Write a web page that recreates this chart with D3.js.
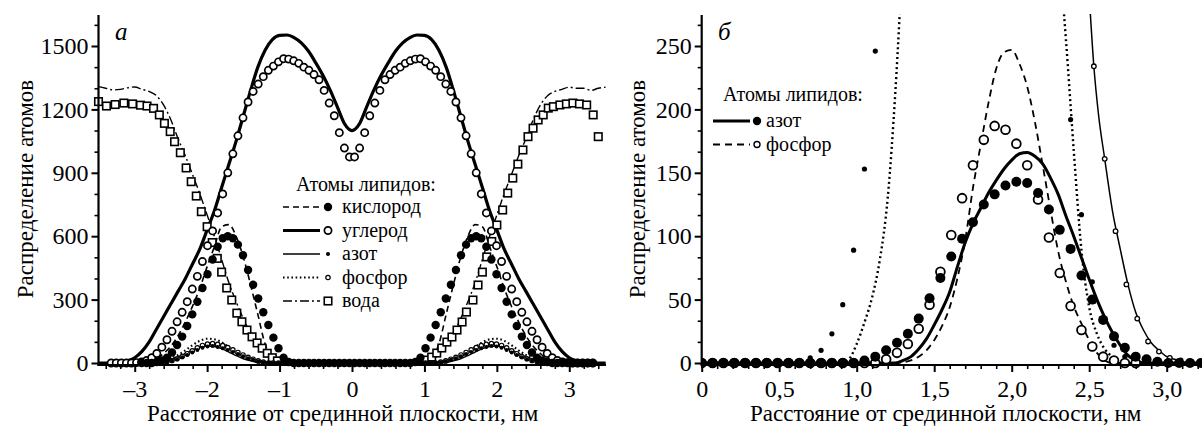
<!DOCTYPE html>
<html lang="ru">
<head>
<meta charset="UTF-8">
<title>Распределение атомов</title>
<script src="https://d3js.org/d3.v7.min.js"></script>
<style>
  body { margin: 0; background: #fff; }
  svg { display: block; font-family: "Liberation Serif", "Times New Roman", "DejaVu Serif", serif; }
  .axis text { font-family: "Liberation Serif", "Times New Roman", serif; font-size: 24px; fill: #000; }
  .axis line { stroke: #000; }
  .title { font-size: 23px; }
  .legend text { font-size: 20px; }
  .panel-letter { font-size: 25px; font-style: italic; }
</style>
</head>
<body>
<svg id="chart" width="1202" height="427"></svg>
<script>
// ---------- panel а : grids ----------
const lineXA = d3.range(-35, 36).map(k => k / 10);              // step 0.1 nm
const markXA = d3.range(-47.5, 48, 1).map(k => +(k * 0.07).toFixed(3)); // step 0.07 nm

// lines, panel а
const carbonLine = [0,0,0,3,10,25,55,100,160,220,280,340,400,470,540,630,720,830,940,1050,1170,1290,1400,1480,1530,1550,1552,1540,1515,1475,1420,1360,1290,1210,1130,
  1100,
  1130,1210,1290,1360,1420,1475,1515,1540,1552,1550,1530,1480,1400,1290,1170,1050,940,830,720,630,540,470,400,340,280,220,160,100,55,25,10,3,0,0,0];
const oxygenLine = [0,0,0,0,0,0,0,5,18,45,80,130,195,270,355,456,550,645,655,600,500,370,230,90,20,0,0,0,0,0,0,0,0,0,0,
  0,
  0,0,0,0,0,0,0,0,0,0,20,90,230,370,500,600,655,645,550,456,355,270,195,130,80,45,18,5,0,0,0,0,0,0,0];
const nitrogenLine = [0,0,0,0,0,0,0,0,2,6,15,28,45,62,75,80,78,68,52,35,20,10,3,0,0,0,0,0,0,0,0,0,0,0,0,
  0,
  0,0,0,0,0,0,0,0,0,0,0,0,3,10,20,35,52,68,78,80,75,62,45,28,15,6,2,0,0,0,0,0,0,0,0];
const phosphorusLine = [0,0,0,0,0,0,0,0,2,8,20,38,60,85,105,115,112,98,75,50,30,15,5,0,0,0,0,0,0,0,0,0,0,0,0,
  0,
  0,0,0,0,0,0,0,0,0,0,0,0,5,15,30,50,75,98,112,115,105,85,60,38,20,8,2,0,0,0,0,0,0,0,0];
const waterLine = [1308,1300,1292,1295,1302,1306,1295,1285,1265,1220,1150,1060,980,890,800,700,600,490,380,290,210,140,85,40,15,3,0,0,0,0,0,0,0,0,0,
  0,
  0,0,0,0,0,0,0,0,0,3,15,40,85,140,210,290,380,490,600,700,800,890,980,1060,1150,1220,1265,1285,1295,1305,1300,1300,1290,1300,1305];

// markers, panel а
const carbonMarks = [0,0,0,0,0,2,5,12,25,45,75,110,150,195,240,290,350,410,480,555,625,710,800,900,990,1075,1160,1235,1285,1320,1355,1385,1405,1425,1440,1438,1430,1418,1400,1385,1365,1340,1290,1230,1170,1090,1017,975,
  975,1017,1090,1170,1230,1290,1340,1365,1385,1400,1418,1430,1438,1440,1425,1405,1385,1355,1320,1285,1235,1160,1075,990,900,800,710,625,555,480,410,350,290,240,195,150,110,75,45,25,12,5,2,0,0,0,0,0];
const oxygenMarks = [null,null,null,null,null,null,0,0,0,5,12,25,50,85,125,175,230,290,355,420,490,550,590,600,590,560,510,440,370,305,240,180,120,70,25,5,0,0,0,0,0,0,0,0,0,0,0,0,
  0,0,0,0,0,0,0,0,0,0,0,0,5,25,70,120,180,240,305,370,440,510,560,590,600,590,550,490,420,355,290,230,175,125,85,50,25,12,5,0,0,0,0,0,0,0,0,0];
const nitrogenMarks = [null,null,null,null,null,null,0,0,0,1,3,6,11,18,27,38,50,62,72,78,80,76,70,62,52,42,32,22,15,8,3,1,0,0,0,0,0,0,0,0,0,0,0,0,0,0,0,0,
  0,0,0,0,0,0,0,0,0,0,0,0,0,0,0,0,1,3,8,15,22,32,42,52,62,70,76,80,78,72,62,50,38,27,18,11,6,3,1,0,0,0,0,0,0,0,0,0];
const phosphorusMarks = [null,null,null,null,null,null,0,0,0,1,3,7,12,20,31,44,58,72,83,90,92,88,82,73,62,50,38,27,18,10,4,0,0,0,0,0,0,0,0,0,0,0,0,0,0,0,0,0,
  0,0,0,0,0,0,0,0,0,0,0,0,0,0,0,0,0,4,10,18,27,38,50,62,73,82,88,92,90,83,72,58,44,31,20,12,7,3,1,0,0,0,0,0,0,0,0,0];
const waterMarkX = [-3.50,-3.39,-3.27,-3.15,-3.03,-2.92,-2.83,-2.74,-2.66,-2.59,-2.51,-2.45,-2.37,-2.29,-2.22,-2.15,-2.08,-2.00,-1.93,-1.86,-1.80,-1.73,-1.66,-1.59,-1.52,-1.45,-1.38,-1.31,-1.24,-1.17,-1.10,-1.03,
  1.03,1.10,1.17,1.24,1.31,1.38,1.45,1.52,1.58,1.67,1.74,1.80,1.86,1.93,2.00,2.08,2.15,2.22,2.29,2.36,2.43,2.50,2.57,2.64,2.71,2.78,2.87,2.96,3.05,3.14,3.24,3.33,3.40];
const waterMarkY = [1237,1216,1223,1230,1226,1220,1216,1205,1174,1134,1095,1047,995,923,858,790,716,645,570,495,430,355,298,236,195,156,124,95,70,46,25,10,
  14,28,47,71,99,123,156,194,241,298,369,430,502,575,653,724,804,875,941,1008,1071,1111,1150,1174,1206,1213,1221,1226,1230,1226,1221,1174,1071];

// ---------- panel б ----------
const lineXB = d3.range(0, 65).map(k => +(k * 0.05).toFixed(2));   // step 0.05 nm
const markXB = d3.range(0, 47).map(k => +(k * 0.07).toFixed(2));   // step 0.07 nm
const nitrogenLineB = [0,0,0,0,0,0,0,0,0,0,0,0,0,0,0,0,0,0,0,0,0,0,0,0,0,0,
  2,5,11,19,30,42,56,76,95,110,122,134,144,153,160,165,166,163,157,146,133,116,100,83,66,50,36,24,14,6,2,
  0,0,0,0,0,0,0,0];
const phosphorusLineB = [0,0,0,0,0,0,0,0,0,0,0,0,0,0,0,0,0,0,0,0,0,0,0,0,0,0,
  0.5,2,5,10,18,29,44,67,97,138,172,205,232,245,247,236,218,190,156,121,88,64,45,31,18,8,2,
  0,0,0,0,0,0,0,0,0,0,0,0];
const nitrogenMarksB = [0,0,0,0,0,0,0,0,0,0,0,0,0,0,0,
  2,5,10,16,23,35,51,67,84,98,111,125,133,140,143,142,134,121,105,90,69,50,34,21,12,5,3,1,
  0,0,0,0];
const phosphorusMarksB = [0,0,0,0,0,0,0,0,0,0,0,0,0,0,0,0,0,
  3,8,15,27,46,72,101,130,156,176,187,184,173,156,129,99,71,45,26,13,5,2,0,0,
  null,null,null,null,null,null];
const dottedX = [0.90,0.95,1.00,1.05,1.10,1.15,1.20,1.25,1.30,1.80,2.30,2.35,2.40,2.45,2.50,2.55,2.60,2.65,2.70,2.75];
const dottedY = [0,3,15,32,52,82,130,215,330,null,330,255,168,89,44,23,11,5,1,0];
const dotsX = [0.63,0.70,0.77,0.84,0.91,0.98,1.05,1.12,2.38,2.45,2.52,2.59,2.66,2.73,2.80];
const dotsY = [1,4,10,23,46,89,153,246,192,117,64,33,14,5,1];
const thinX = [2.48,2.50,2.53,2.56,2.60,2.65,2.70,2.75,2.80,2.85,2.90,2.95,3.00,3.05,3.10,3.15,3.22];
const thinY = [330,290,234,196,161,120,90,62,40,26,16,10,5,3,1,0,0];
const ringsX = [2.53,2.60,2.67,2.74,2.81,2.88,2.95,3.02,3.09,3.16];
const ringsY = [234,161,104,62,35,17,9,4,2,1];

// ---------- scales ----------
const AXIS_Y = 365, AXIS_TOP = 15;
const xA = d3.scaleLinear().domain([-3.5, 3.5]).range([98.5, 605.5]);
const yA = d3.scaleLinear().domain([0, 1500]).range([363, 46]);
const xB = d3.scaleLinear().domain([0, 3.22]).range([701.7, 1200.8]);
const yB = d3.scaleLinear().domain([0, 250]).range([363, 46]);

const svg = d3.select("#chart");

const styles = {
  thick:  { w: 3.2 },
  dashed: { w: 1.6, dash: "6 4" },
  thin:   { w: 1.4 },
  dotted: { w: 2.1, dash: "1.6 2.6" },
  dashdot:{ w: 1.4, dash: "9 3 2 3" },
  dashedB:{ w: 1.8, dash: "7 5" },
  dottedB:{ w: 2.4, dash: "2 3" },
  thickB: { w: 3 },
  thinB:  { w: 1.5 }
};
const marks = {
  filled:  { shape: "circle", r: 4.2, fill: "#000" },
  open:    { shape: "circle", r: 3.6, fill: "#fff", sw: 1.7 },
  dot:     { shape: "circle", r: 2, fill: "#000" },
  ring:    { shape: "circle", r: 2.2, fill: "#fff", sw: 1.2 },
  square:  { shape: "square", size: 7.5, fill: "#fff", sw: 1.6 },
  filledB: { shape: "circle", r: 5, fill: "#000" },
  openB:   { shape: "circle", r: 4.4, fill: "#fff", sw: 1.8 },
  dotB:    { shape: "circle", r: 2.6, fill: "#000" },
  ringB:   { shape: "circle", r: 2.3, fill: "#fff", sw: 1.3 },
  legFilledB: { shape: "circle", r: 4.2, fill: "#000" },
  legRingB:   { shape: "circle", r: 3, fill: "#fff", sw: 1.4 }
};

function drawLine(g, xs, ys, x, y, st) {
  const pts = xs.map((v, i) => [v, ys[i]]);
  g.append("path").datum(pts)
    .attr("d", d3.line().defined(d => d[1] != null)
      .x(d => x(d[0])).y(d => y(d[1])).curve(d3.curveMonotoneX))
    .attr("fill", "none").attr("stroke", "#000")
    .attr("stroke-width", st.w)
    .attr("stroke-dasharray", st.dash || null);
}

function drawMarks(g, xs, ys, x, y, m) {
  const pts = xs.map((v, i) => [v, ys[i]]).filter(d => d[1] != null);
  if (m.shape === "square") {
    g.append("g").selectAll("rect").data(pts).join("rect")
      .attr("x", d => x(d[0]) - m.size / 2).attr("y", d => y(d[1]) - m.size / 2)
      .attr("width", m.size).attr("height", m.size)
      .attr("fill", m.fill).attr("stroke", "#000").attr("stroke-width", m.sw);
  } else {
    g.append("g").selectAll("circle").data(pts).join("circle")
      .attr("cx", d => x(d[0])).attr("cy", d => y(d[1])).attr("r", m.r)
      .attr("fill", m.fill)
      .attr("stroke", m.sw ? "#000" : "none").attr("stroke-width", m.sw || 0);
  }
}

function legendMark(g, cx, cy, m) {
  if (m.shape === "square") {
    g.append("rect").attr("x", cx - m.size / 2).attr("y", cy - m.size / 2)
      .attr("width", m.size).attr("height", m.size)
      .attr("fill", m.fill).attr("stroke", "#000").attr("stroke-width", m.sw);
  } else {
    g.append("circle").attr("cx", cx).attr("cy", cy).attr("r", m.r)
      .attr("fill", m.fill).attr("stroke", m.sw ? "#000" : "none").attr("stroke-width", m.sw || 0);
  }
}

function drawAxes(g, x, y, o) {
  const x0 = x.range()[0];
  const addAxis = (axis, tr, w) => g.append("g").attr("class", "axis")
    .attr("transform", tr).call(axis)
    .call(s => s.select(".domain").remove())
    .call(s => s.selectAll("line").attr("stroke-width", w));
  addAxis(d3.axisBottom(x).tickValues(o.xMinor).tickSize(4).tickFormat(""), `translate(0,${AXIS_Y})`, 1.6);
  addAxis(d3.axisBottom(x).tickValues(o.xMajor).tickSize(7).tickPadding(8).tickFormat(o.xFmt), `translate(0,${AXIS_Y})`, 2);
  addAxis(d3.axisLeft(y).tickValues(o.yMinor).tickSize(4).tickFormat(""), `translate(${x0},0)`, 1.6);
  addAxis(d3.axisLeft(y).tickValues(o.yMajor).tickSize(7).tickPadding(3).tickFormat(d3.format("d")), `translate(${x0},0)`, 2);
  g.append("line").attr("x1", x0 - 1).attr("x2", o.xEnd).attr("y1", AXIS_Y).attr("y2", AXIS_Y)
    .attr("stroke", "#000").attr("stroke-width", 2.2);
  g.append("line").attr("x1", x0).attr("x2", x0).attr("y1", AXIS_Y + 1).attr("y2", AXIS_TOP)
    .attr("stroke", "#000").attr("stroke-width", 2.2);
}

// ---------- panel а ----------
const gA = svg.append("g");
drawLine(gA, lineXA, waterLine, xA, yA, styles.dashdot);
drawLine(gA, lineXA, phosphorusLine, xA, yA, styles.dotted);
drawLine(gA, lineXA, nitrogenLine, xA, yA, styles.thin);
drawLine(gA, lineXA, oxygenLine, xA, yA, styles.dashed);
drawLine(gA, lineXA, carbonLine, xA, yA, styles.thick);
drawMarks(gA, waterMarkX, waterMarkY, xA, yA, marks.square);
drawMarks(gA, markXA, carbonMarks, xA, yA, marks.open);
drawMarks(gA, markXA, phosphorusMarks, xA, yA, marks.ring);
drawMarks(gA, markXA, nitrogenMarks, xA, yA, marks.dot);
drawMarks(gA, markXA, oxygenMarks, xA, yA, marks.filled);

drawAxes(gA, xA, yA, {
  xMajor: d3.range(-3, 4), xMinor: d3.range(-34, 35, 2).filter(k => k % 10).map(k => k / 10),
  yMajor: d3.range(0, 1501, 300), yMinor: d3.range(100, 1650, 100).filter(v => v % 300),
  xFmt: d => d < 0 ? "–" + Math.abs(d) : String(d), xEnd: 606
});

// ---------- panel б ----------
svg.append("clipPath").attr("id", "clipB").append("rect")
  .attr("x", 701).attr("y", AXIS_TOP - 1).attr("width", 502).attr("height", 360);
const gB = svg.append("g");
const gBplot = gB.append("g").attr("clip-path", "url(#clipB)");
drawLine(gBplot, dottedX, dottedY, xB, yB, styles.dottedB);
drawLine(gBplot, thinX, thinY, xB, yB, styles.thinB);
drawLine(gBplot, lineXB, phosphorusLineB, xB, yB, styles.dashedB);
drawLine(gBplot, lineXB, nitrogenLineB, xB, yB, styles.thickB);
drawMarks(gBplot, ringsX, ringsY, xB, yB, marks.ringB);
drawMarks(gBplot, dotsX, dotsY, xB, yB, marks.dotB);
drawMarks(gBplot, markXB, phosphorusMarksB, xB, yB, marks.openB);
drawMarks(gBplot, markXB, nitrogenMarksB, xB, yB, marks.filledB);

drawAxes(gB, xB, yB, {
  xMajor: d3.range(0, 7).map(k => k / 2), xMinor: d3.range(1, 33).filter(k => k % 5).map(k => k / 10),
  yMajor: d3.range(0, 251, 50), yMinor: d3.range(1, 17).filter(k => k % 3).map(k => k * 50 / 3),
  xFmt: d => d === 0 ? "0" : d.toFixed(1).replace(".", ","), xEnd: 1202
});

// ---------- titles ----------
const xTitle = "Расстояние от срединной плоскости, нм";
const yTitle = "Распределение атомов";
svg.append("text").attr("class", "title").attr("x", 147).attr("y", 421).text(xTitle);
svg.append("text").attr("class", "title").attr("x", 750).attr("y", 421).text(xTitle);
svg.append("text").attr("class", "title").attr("text-anchor", "middle")
  .attr("transform", "translate(33,189) rotate(-90)").text(yTitle);
svg.append("text").attr("class", "title").attr("text-anchor", "middle")
  .attr("transform", "translate(645,189) rotate(-90)").text(yTitle);
svg.append("text").attr("class", "panel-letter").attr("x", 115).attr("y", 40).text("а");
svg.append("text").attr("class", "panel-letter").attr("x", 718).attr("y", 40).text("б");

// ---------- legends ----------
const legendA = [
  { label: "кислород", line: styles.dashed, mark: marks.filled },
  { label: "углерод", line: styles.thick, mark: marks.open },
  { label: "азот", line: styles.thin, mark: marks.dot },
  { label: "фосфор", line: styles.dotted, mark: marks.ring },
  { label: "вода", line: styles.dashdot, mark: marks.square }
];
const legendB = [
  { label: "азот", line: styles.thickB, mark: marks.legFilledB },
  { label: "фосфор", line: styles.dashedB, mark: marks.legRingB }
];

function drawLegend(items, o) {
  const g = svg.append("g").attr("class", "legend");
  g.append("text").attr("x", o.hx).attr("y", o.hy).text("Атомы липидов:");
  items.forEach((it, i) => {
    const by = o.y0 + i * o.dy, cy = by - 6;
    g.append("line").attr("x1", o.l0).attr("x2", o.l1).attr("y1", cy).attr("y2", cy)
      .attr("stroke", "#000").attr("stroke-width", it.line.w)
      .attr("stroke-dasharray", it.line.dash || null);
    legendMark(g, o.mx, cy, it.mark);
    g.append("text").attr("x", o.tx).attr("y", by).text(it.label);
  });
}
drawLegend(legendA, { hx: 296, hy: 190.5, y0: 213, dy: 23.5, l0: 283, l1: 320, mx: 328, tx: 342 });
drawLegend(legendB, { hx: 723, hy: 101, y0: 127, dy: 23.5, l0: 713, l1: 750, mx: 757, tx: 766 });
</script>
</body>
</html>
